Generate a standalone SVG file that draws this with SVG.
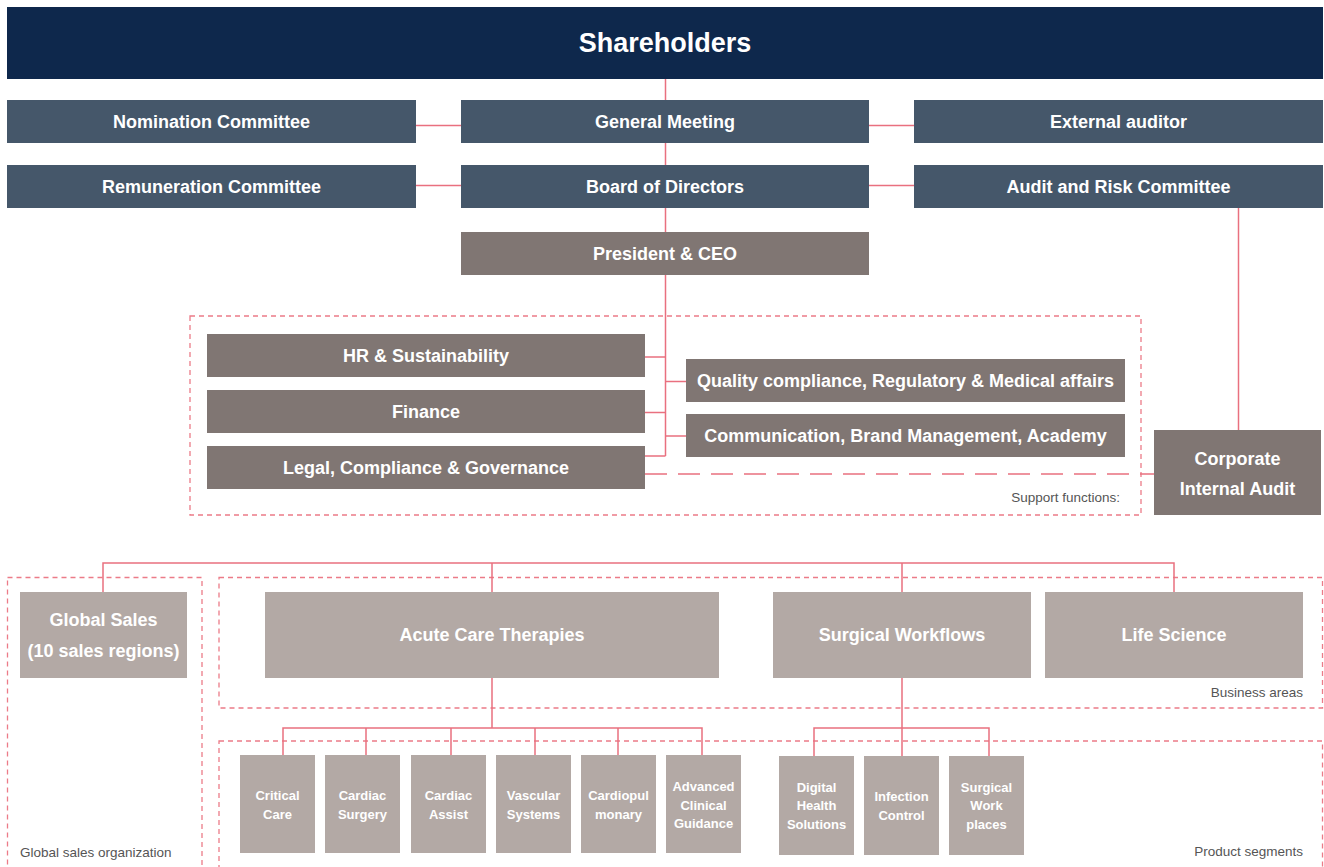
<svg xmlns="http://www.w3.org/2000/svg" width="1324" height="867" viewBox="0 0 1324 867">
  <style>
    .navy { fill: #0e284c; }
    .slate { fill: #45576a; }
    .taupe { fill: #807673; }
    .light { fill: #b3a9a5; }
    .lbl { font-family: "Liberation Sans", Arial, sans-serif; font-weight: 700; fill: #ffffff; text-anchor: middle; dominant-baseline: central; }
    .big { font-size: 27px; }
    .mid { font-size: 18px; }
    .sm { font-size: 13px; }
    .note { font-family: "Liberation Sans", Arial, sans-serif; font-size: 13.5px; fill: #555555; }
    .wire { fill: none; stroke: #e9707f; stroke-width: 1.5; }
    .frame { fill: none; stroke: #ec7b88; stroke-width: 1.3; stroke-dasharray: 5 4; }
    .longdash { fill: none; stroke: #e9707f; stroke-width: 1.5; stroke-dasharray: 22 11; }
  </style>

  <!-- dashed group frames -->
  <g id="frames">
    <rect class="frame" x="190" y="316" width="951" height="199"/>
    <rect class="frame" x="7.5" y="577.5" width="194.5" height="300"/>
    <rect class="frame" x="219" y="577.5" width="1103.5" height="130.5"/>
    <rect class="frame" x="219" y="741" width="1103.5" height="140"/>
    <text class="note" x="1120" y="502" text-anchor="end">Support functions:</text>
    <text class="note" x="1303" y="697" text-anchor="end">Business areas</text>
    <text class="note" x="1303" y="856" text-anchor="end">Product segments</text>
    <text class="note" x="20" y="857">Global sales organization</text>
  </g>

  <!-- connectors -->
  <g id="connectors">
    <!-- main spine -->
    <path class="wire" d="M665.5 79 V456"/>
    <path class="wire" d="M416 125.5 H461 M869 125.5 H914"/>
    <path class="wire" d="M416 185.5 H461 M869 185.5 H914"/>
    <!-- support functions -->
    <path class="wire" d="M645 357 H665.5 M645 412.5 H665.5 M645 456 H665.5"/>
    <path class="wire" d="M665.5 381.5 H686 M665.5 436 H686"/>
    <!-- audit line -->
    <path class="wire" d="M1238.5 208 V430"/>
    <path class="longdash" d="M645 474 H1154"/>
    <!-- business areas -->
    <path class="wire" d="M103 592 V563 H1174 V592 M492 563 V592 M902 563 V592"/>
    <!-- acute care segments -->
    <path class="wire" d="M492 677 V728 M283 755 V728 H702 V755 M366 728 V755 M451 728 V755 M535 728 V755 M618 728 V755"/>
    <!-- surgical workflow segments -->
    <path class="wire" d="M902 677 V756 M814 756 V728 H989 V756"/>
  </g>

  <g id="shareholders">
    <rect class="navy" x="7" y="7" width="1316" height="72"/>
    <text class="lbl big" x="665" y="43">Shareholders</text>
  </g>

  <g id="nomination-committee">
    <rect class="slate" x="7" y="100" width="409" height="43"/>
    <text class="lbl mid" x="211.5" y="122">Nomination Committee</text>
  </g>
  <g id="general-meeting">
    <rect class="slate" x="461" y="100" width="408" height="43"/>
    <text class="lbl mid" x="665" y="122">General Meeting</text>
  </g>
  <g id="external-auditor">
    <rect class="slate" x="914" y="100" width="409" height="43"/>
    <text class="lbl mid" x="1118.5" y="122">External auditor</text>
  </g>

  <g id="remuneration-committee">
    <rect class="slate" x="7" y="165" width="409" height="43"/>
    <text class="lbl mid" x="211.5" y="187">Remuneration Committee</text>
  </g>
  <g id="board-of-directors">
    <rect class="slate" x="461" y="165" width="408" height="43"/>
    <text class="lbl mid" x="665" y="187">Board of Directors</text>
  </g>
  <g id="audit-risk-committee">
    <rect class="slate" x="914" y="165" width="409" height="43"/>
    <text class="lbl mid" x="1118.5" y="187">Audit and Risk Committee</text>
  </g>

  <g id="president-ceo">
    <rect class="taupe" x="461" y="232" width="408" height="43"/>
    <text class="lbl mid" x="665" y="254">President &amp; CEO</text>
  </g>

  <g id="hr">
    <rect class="taupe" x="207" y="334" width="438" height="43"/>
    <text class="lbl mid" x="426" y="356">HR &amp; Sustainability</text>
  </g>
  <g id="finance">
    <rect class="taupe" x="207" y="390" width="438" height="43"/>
    <text class="lbl mid" x="426" y="412">Finance</text>
  </g>
  <g id="legal">
    <rect class="taupe" x="207" y="446" width="438" height="43"/>
    <text class="lbl mid" x="426" y="468">Legal, Compliance &amp; Governance</text>
  </g>
  <g id="quality">
    <rect class="taupe" x="686" y="359" width="439" height="43"/>
    <text class="lbl mid" x="905.5" y="381">Quality compliance, Regulatory &amp; Medical affairs</text>
  </g>
  <g id="communication">
    <rect class="taupe" x="686" y="414" width="439" height="43"/>
    <text class="lbl mid" x="905.5" y="436">Communication, Brand Management, Academy</text>
  </g>
  <g id="internal-audit">
    <rect class="taupe" x="1154" y="430" width="167" height="85"/>
    <text class="lbl mid" x="1237.5" y="459">Corporate</text>
    <text class="lbl mid" x="1237.5" y="489">Internal Audit</text>
  </g>

  <g id="global-sales">
    <rect class="light" x="20" y="592" width="167" height="86"/>
    <text class="lbl mid" x="103.5" y="620">Global Sales</text>
    <text class="lbl mid" x="103.5" y="651">(10 sales regions)</text>
  </g>
  <g id="acute-care">
    <rect class="light" x="265" y="592" width="454" height="86"/>
    <text class="lbl mid" x="492" y="635">Acute Care Therapies</text>
  </g>
  <g id="surgical-workflows">
    <rect class="light" x="773" y="592" width="258" height="86"/>
    <text class="lbl mid" x="902" y="635">Surgical Workflows</text>
  </g>
  <g id="life-science">
    <rect class="light" x="1045" y="592" width="258" height="86"/>
    <text class="lbl mid" x="1174" y="635">Life Science</text>
  </g>

  <g id="critical-care">
    <rect class="light" x="240" y="755" width="75" height="98"/>
    <text class="lbl sm" x="277.5" y="795">Critical</text>
    <text class="lbl sm" x="277.5" y="814">Care</text>
  </g>
  <g id="cardiac-surgery">
    <rect class="light" x="325" y="755" width="75" height="98"/>
    <text class="lbl sm" x="362.5" y="795">Cardiac</text>
    <text class="lbl sm" x="362.5" y="814">Surgery</text>
  </g>
  <g id="cardiac-assist">
    <rect class="light" x="411" y="755" width="75" height="98"/>
    <text class="lbl sm" x="448.5" y="795">Cardiac</text>
    <text class="lbl sm" x="448.5" y="814">Assist</text>
  </g>
  <g id="vascular-systems">
    <rect class="light" x="496" y="755" width="75" height="98"/>
    <text class="lbl sm" x="533.5" y="795">Vascular</text>
    <text class="lbl sm" x="533.5" y="814">Systems</text>
  </g>
  <g id="cardiopulmonary">
    <rect class="light" x="581" y="755" width="75" height="98"/>
    <text class="lbl sm" x="618.5" y="795">Cardiopul</text>
    <text class="lbl sm" x="618.5" y="814">monary</text>
  </g>
  <g id="advanced-clinical-guidance">
    <rect class="light" x="666" y="755" width="75" height="98"/>
    <text class="lbl sm" x="703.5" y="786">Advanced</text>
    <text class="lbl sm" x="703.5" y="805">Clinical</text>
    <text class="lbl sm" x="703.5" y="823">Guidance</text>
  </g>

  <g id="digital-health">
    <rect class="light" x="779" y="756" width="75" height="99"/>
    <text class="lbl sm" x="816.5" y="787">Digital</text>
    <text class="lbl sm" x="816.5" y="805">Health</text>
    <text class="lbl sm" x="816.5" y="824">Solutions</text>
  </g>
  <g id="infection-control">
    <rect class="light" x="864" y="756" width="75" height="99"/>
    <text class="lbl sm" x="901.5" y="796">Infection</text>
    <text class="lbl sm" x="901.5" y="815">Control</text>
  </g>
  <g id="surgical-workplaces">
    <rect class="light" x="949" y="756" width="75" height="99"/>
    <text class="lbl sm" x="986.5" y="787">Surgical</text>
    <text class="lbl sm" x="986.5" y="805">Work</text>
    <text class="lbl sm" x="986.5" y="824">places</text>
  </g>
</svg>
